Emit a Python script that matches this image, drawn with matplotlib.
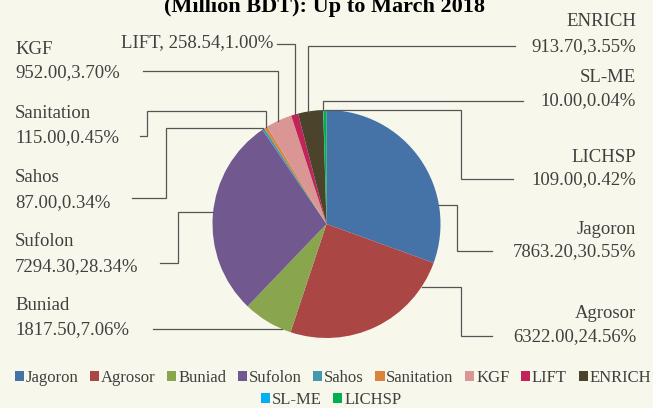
import numpy as np
import matplotlib.pyplot as plt
from matplotlib.patches import Patch

# Fund disbursement by programme (Million BDT), up to March 2018
PROGRAMS = ["Jagoron", "Agrosor", "Buniad", "Sufolon", "Sahos", "Sanitation",
            "KGF", "LIFT", "ENRICH", "SL-ME", "LICHSP"]
AMOUNTS = [7863.20, 6322.00, 1817.50, 7294.30, 87.00, 115.00,
           952.00, 258.54, 913.70, 10.00, 109.00]
COLORS = ["#4572A7", "#AA4643", "#89A54E", "#71588F", "#4198AF", "#DB843D",
          "#DA9694", "#C0245A", "#4B432A", "#00B0F0", "#00B050"]

TITLE = "(Million BDT): Up to March 2018"

BG = "#F7F8EB"
TXT = "#404040"
LINE = "#555555"
FONT = "Liberation Serif"
FS = 13.5

W, H = 653, 408
CX, CY, R = 326.5, 224.0, 114.0   # pie centre / radius in pixels (y down)

# label layout, pixel coords (y down):
# name, (text x, name y, value y, ha), leader path from text end; last point
# carries None for the coordinate that is resolved on the pie edge
LAYOUT = {
    "Jagoron":    ((636, 230, 252, "right"), [(492, 251), (457, 251), (457, 205), (None, 205)]),
    "Agrosor":    ((636, 313, 337, "right"), [(492, 336), (461, 336), (461, 287), (None, 287)]),
    "LICHSP":     ((636, 157, 180, "right"), [(513, 179), (461, 179), (461, 110), (325, 110), (325, None)]),
    "SL-ME":      ((636, 77, 101, "right"),  [(523, 101), (323, 101), (323, None)]),
    "ENRICH":     ((636, 22, 47, "right"),   [(515, 46), (308, 46), (308, None)]),
    "KGF":        ((15, 50, 73, "left"),     [(143, 71), (278, 71), (278, None)]),
    "Sanitation": ((15, 114, 138, "left"),   [(140, 136), (147, 136), (147, 111), (266, 111), (266, None)]),
    "Sahos":      ((15, 178, 203, "left"),   [(132, 198), (166, 198), (166, 128), (263, 128), (263, None)]),
    "Sufolon":    ((15, 242, 267, "left"),   [(160, 263), (178, 263), (178, 212), (None, 212)]),
    "Buniad":     ((15, 305, 330, "left"),   [(153, 329), (None, 329)]),
}


def fy(y):
    return H - y


def edge_point(x, y, side):
    # resolve the missing coordinate on the pie perimeter
    if x is None:
        dx = np.sqrt(max(R ** 2 - (y - CY) ** 2, 0.0))
        return (CX + dx if side == "right" else CX - dx), y
    dy = np.sqrt(max(R ** 2 - (x - CX) ** 2, 0.0))
    return x, CY - dy


def main():
    fig = plt.figure(figsize=(W / 100, H / 100), dpi=100, facecolor=BG)
    ax = fig.add_axes([0, 0, 1, 1])
    ax.set_facecolor(BG)

    total = sum(AMOUNTS)
    ax.pie(AMOUNTS, colors=COLORS, startangle=90, counterclock=False,
           center=(CX, fy(CY)), radius=R, wedgeprops=dict(linewidth=0))
    ax.set_xlim(0, W)
    ax.set_ylim(0, H)
    ax.set_aspect("auto")
    ax.axis("off")

    for name, amt in zip(PROGRAMS, AMOUNTS):
        pct = amt / total * 100
        val = f"{amt:.2f},{pct:.2f}%"
        if name == "LIFT":
            ax.text(273, fy(43), f"LIFT, {val}", ha="right", va="center",
                    family=FONT, fontsize=FS, color=TXT)
            path = [(277, 44), (295, 44), (295, None)]
            side = "left"
        else:
            (tx, ny, vy, ha), path = LAYOUT[name]
            ax.text(tx, fy(ny), name, ha=ha, va="center", family=FONT, fontsize=FS, color=TXT)
            ax.text(tx, fy(vy), val, ha=ha, va="center", family=FONT, fontsize=FS, color=TXT)
            side = "right" if ha == "right" else "left"
        pts = path[:-1] + [edge_point(*path[-1], side)]
        xs = [p[0] for p in pts]
        ys = [fy(p[1]) for p in pts]
        ax.plot(xs, ys, color=LINE, linewidth=0.9, solid_joinstyle="miter")

    # the first title line sits above the canvas in the original, only this one shows
    ax.text(325, fy(12), TITLE, ha="center", va="baseline", family=FONT,
            fontsize=16, fontweight="bold", color="#000000")

    handles = [Patch(facecolor=c, edgecolor="none") for c in COLORS]
    leg_kw = dict(frameon=False, prop=dict(family=FONT, size=12), labelcolor=TXT,
                  handlelength=0.55, handleheight=0.55, handletextpad=0.1,
                  columnspacing=0.7, borderaxespad=0, borderpad=0)
    fig.legend(handles[:9], PROGRAMS[:9], ncol=9, loc="center",
               bbox_to_anchor=(0.51, 1 - 378 / H), **leg_kw)
    fig.legend(handles[9:], PROGRAMS[9:], ncol=2, loc="center",
               bbox_to_anchor=(0.507, 1 - 400 / H), **leg_kw)

    fig.savefig("out.png", dpi=100, facecolor=BG)


if __name__ == "__main__":
    main()
